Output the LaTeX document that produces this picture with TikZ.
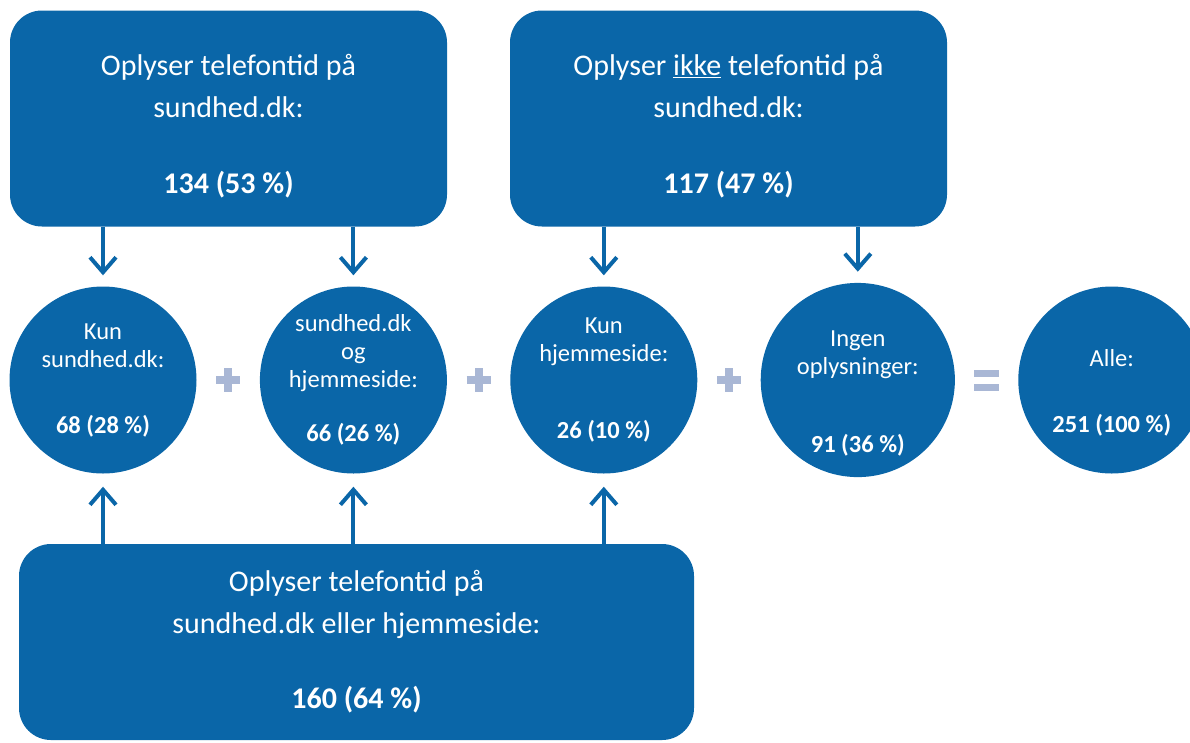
\documentclass[tikz,border=0pt]{standalone}
\usepackage{fontspec}
\setmainfont{Carlito}
\usepackage{tikz}
\usetikzlibrary{arrows.meta,positioning,calc}
\definecolor{sdblue}{HTML}{0A66A8}
\definecolor{sdgrey}{HTML}{A9B7D5}

\begin{document}
\begin{tikzpicture}[x=1pt, y=-1pt, node distance=63pt,
	box/.style={rectangle, rounded corners=32pt, fill=sdblue, text=white, align=center, inner sep=0pt, font=\fontsize{30}{42}\selectfont},
	ball/.style={circle, fill=sdblue, text=white, align=center, inner sep=0pt, minimum size=187pt, font=\fontsize{24.5}{28}\selectfont},
	link/.style={draw=sdblue, line width=4pt, -{Straight Barb[length=15pt,width=26pt]}},
	sign/.style={draw=sdgrey, line width=8pt}]
	\useasboundingbox (0,0) rectangle (1190,742);

	\node ({tl}) at (228.5,118.5) [box, minimum width=437pt, minimum height=216pt] {\rule{0pt}{36pt}Oplyser telefontid på\\sundhed.dk:\\[34pt]\textbf{134 (53 \%)}};
	\node ({tr}) at (728.5,118.5) [box, minimum width=437pt, minimum height=216pt] {\rule{0pt}{36pt}Oplyser \underline{ikke} telefontid på\\sundhed.dk:\\[34pt]\textbf{117 (47 \%)}};
	\node ({bt}) at (356.5,642) [box, minimum width=675pt, minimum height=196pt] {Oplyser telefontid på\\sundhed.dk eller hjemmeside:\\[33pt]\textbf{160 (64 \%)}};

	\node ({c1}) at (103,380) [ball] {Kun\\sundhed.dk:\\[38pt]\textbf{68 (28 \%)}};
	\node ({c2}) [ball, right=of c1] {sundhed.dk\\og\\hjemmeside:\\[26pt]\textbf{66 (26 \%)}};
	\node ({c3}) [ball, right=of c2] {Kun\\hjemmeside:\\[49pt]\textbf{26 (10 \%)}};
	\node ({c4}) [ball, right=of c3] {\rule{0pt}{42pt}Ingen\\oplysninger:\\[50pt]\textbf{91 (36 \%)}};
	\node ({c5}) [ball, right=of c4] {\rule{0pt}{42pt}Alle:\\[38pt]\textbf{251 (100 \%)}};

	% pile ned fra de to øverste kasser, op fra den nederste
	\draw [link, shorten >=11pt] (tl.south -| c1) -- (c1.north);
	\draw [link, shorten >=11pt] (tl.south -| c2) -- (c2.north);
	\draw [link, shorten >=11pt] (tr.south -| c3) -- (c3.north);
	\draw [link, shorten >=11pt] (tr.south -| c4) -- (c4.north);
	\foreach \c in {c1, c2, c3}
		\draw [link, shorten >=13pt] (bt.north -| \c) -- (\c.south);

	% plus og lig med
	\foreach \a/\b in {c1/c2, c2/c3, c3/c4}
		\draw [sign] ($(\a.east)!0.5!(\b.west)+(-12,0)$) -- ++(24,0) ($(\a.east)!0.5!(\b.west)+(0,-12)$) -- ++(0,24);
	\draw [sign, line width=7pt] ($(c4.east)!0.5!(c5.west)+(-12.5,-7)$) -- ++(25,0) ++(-25,14) -- ++(25,0);
\end{tikzpicture}
\end{document}
